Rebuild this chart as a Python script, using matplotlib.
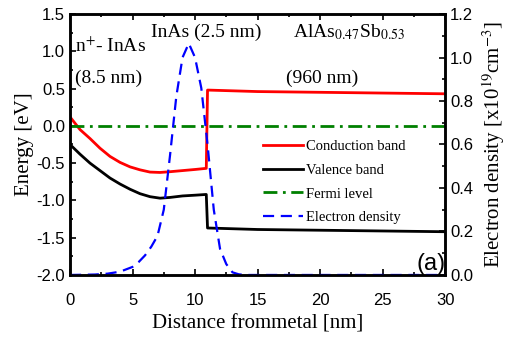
import numpy as np
import matplotlib
matplotlib.use('Agg')
import matplotlib.pyplot as plt
from matplotlib.ticker import MultipleLocator

plt.rcParams['mathtext.fontset'] = 'stix'

# band edges vs distance from metal [nm]
x_band = [0, 0.8, 1.6, 2.4, 3.2, 4.0, 4.8, 5.6, 6.4, 7.2, 8.0, 9.0, 10.0, 10.9,
          11.0, 15, 20, 25, 30]
e_cond = [0.12, -0.05, -0.17, -0.30, -0.41, -0.49, -0.55, -0.59, -0.62, -0.625,
          -0.615, -0.60, -0.585, -0.57, 0.48, 0.46, 0.45, 0.44, 0.43]
e_val = [-0.25, -0.38, -0.50, -0.60, -0.70, -0.78, -0.85, -0.91, -0.95, -0.97,
         -0.96, -0.94, -0.93, -0.92, -1.37, -1.39, -1.40, -1.41, -1.42]
x_fermi = [0, 30]
e_fermi = [0, 0]

# electron density [1e19 cm^-3]
x_dens = [0, 2, 3, 4, 5, 5.5, 6, 6.5, 7, 7.5, 8, 8.5, 9, 9.5, 10, 10.5, 11,
          11.5, 12, 12.5, 13, 13.5, 14, 30]
n_dens = [0, 0.002, 0.006, 0.015, 0.037, 0.06, 0.09, 0.13, 0.18, 0.30, 0.55,
          0.82, 1.0, 1.065, 1.0, 0.86, 0.60, 0.30, 0.12, 0.05, 0.012, 0.003, 0, 0]

fig = plt.figure(figsize=(5.11, 3.42), dpi=100)
ax = fig.add_axes([0.137, 0.196, 0.734, 0.763])
ax2 = ax.twinx()

l1, = ax.plot(x_band, e_cond, color='red', lw=2, label='Conduction band')
l2, = ax.plot(x_band, e_val, color='black', lw=2, label='Valence band')
l3, = ax.plot(x_fermi, e_fermi, color='#008000', lw=2, ls=(0, (5, 2, 1, 2)),
              label='Fermi level')
l4, = ax2.plot(x_dens, n_dens, color='blue', lw=1.6, ls=(0, (5, 3)),
               label='Electron density')

ax.set_xlim(0, 30)
ax.set_ylim(-2.0, 1.5)
ax2.set_ylim(0, 1.2)

ax.xaxis.set_major_locator(MultipleLocator(5))
ax.xaxis.set_minor_locator(MultipleLocator(2.5))
ax.yaxis.set_major_locator(MultipleLocator(0.5))
ax.yaxis.set_minor_locator(MultipleLocator(0.25))
ax2.yaxis.set_major_locator(MultipleLocator(0.2))
ax2.yaxis.set_minor_locator(MultipleLocator(0.1))

ax.yaxis.set_major_formatter(matplotlib.ticker.FormatStrFormatter('%.1f'))
ax2.yaxis.set_major_formatter(matplotlib.ticker.FormatStrFormatter('%.1f'))

ax.tick_params(which='both', direction='in', top=True, right=False,
               labelsize=12, width=1.2)
ax.tick_params(which='major', length=4)
ax.tick_params(which='minor', length=2.5)
ax.tick_params(axis='x', pad=13)
ax2.tick_params(which='both', direction='in', labelsize=12, width=1.2)
ax2.tick_params(which='major', length=4)
ax2.tick_params(which='minor', length=2.5)
for a in (ax, ax2):
    for s in a.spines.values():
        s.set_linewidth(1.8)
    for t in a.get_xticklabels() + a.get_yticklabels():
        t.set_family('Liberation Sans')

ax.set_xlabel('Distance frommetal [nm]', family='Liberation Serif', fontsize=15,
              labelpad=5)
ax.set_ylabel('Energy [eV]', family='Liberation Serif', fontsize=15, labelpad=2)
ax2.set_ylabel(r'Electron density [x10$^{19}$cm$^{-3}$]', family='Liberation Serif',
               fontsize=15, labelpad=5)

tf = dict(family='Liberation Serif', fontsize=14)
ax.text(0.4, 0.99, r'n$^{+}$- InAs', **tf)
ax.text(0.4, 0.57, '(8.5 nm)', **tf)
ax.text(6.5, 1.19, 'InAs (2.5 nm)', **tf)
ax.text(17.8, 1.19, r'AlAs$_{0.47}$Sb$_{0.53}$', **tf)
ax.text(17.3, 0.57, '(960 nm)', **tf)
ax.text(27.7, -1.93, '(a)', family='Liberation Sans', fontsize=17)

ax2.legend(handles=[l1, l2, l3, l4], loc='upper left',
           bbox_to_anchor=(0.5, 0.54), frameon=False,
           prop={'family': 'Liberation Serif', 'size': 10.5},
           handlelength=2.7, handletextpad=0.2, labelspacing=0.72,
           borderaxespad=0)

fig.savefig('out.png', dpi=100)
